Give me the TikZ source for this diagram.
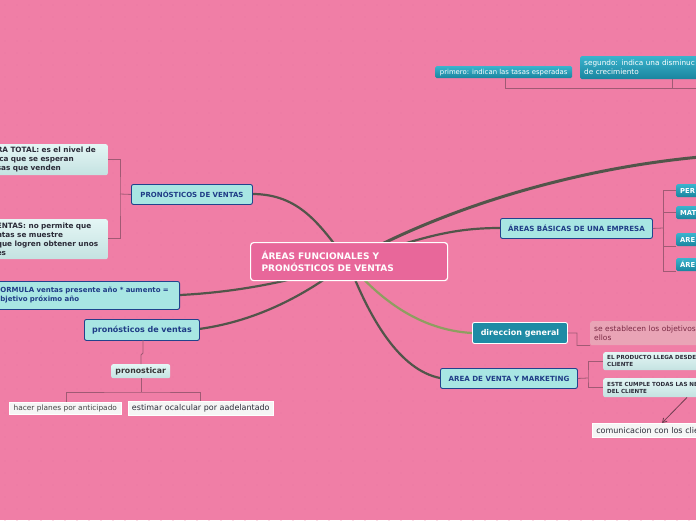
\documentclass[tikz,border=0pt]{standalone}
\usepackage{fontspec}
\setmainfont{DejaVu Sans}
\usetikzlibrary{arrows.meta}
\definecolor{bg}{HTML}{F07EA6}
\definecolor{dotc}{HTML}{E977A2}
\definecolor{centralc}{HTML}{E8679A}
\definecolor{cyanc}{HTML}{A8E6E3}
\definecolor{navy}{HTML}{22438C}
\definecolor{navytext}{HTML}{1F3C86}
\definecolor{branchc}{HTML}{52554A}
\definecolor{greenc}{HTML}{8E9E60}
\definecolor{elbowc}{HTML}{A05A74}
\definecolor{tealtop}{HTML}{3AB3CD}
\definecolor{tealbot}{HTML}{1A849E}
\definecolor{lighttop}{HTML}{E4F6F5}
\definecolor{lightbot}{HTML}{C4E2E1}
\definecolor{pinkbox}{HTML}{E9A4B6}
\definecolor{maroon}{HTML}{7A2A45}
\definecolor{darktext}{HTML}{2B2B38}
\definecolor{greytext}{HTML}{444444}
\tikzset{
  cyanbox/.style={fill=cyanc, draw=navy, line width=0.9pt, rounded corners=2pt, text=navytext, inner sep=0pt},
  centralbox/.style={fill=centralc, draw=white, line width=1.2pt, rounded corners=3pt, text=white, inner sep=0pt},
  tealbox/.style={top color=tealtop, bottom color=tealbot, draw=none, rounded corners=1.5pt, text=white, inner sep=0pt},
  lightbox/.style={top color=lighttop, bottom color=lightbot, draw=none, rounded corners=2pt, text=darktext, inner sep=0pt},
  whitebox/.style={fill=white!96!black, draw=white, line width=0.6pt, text=greytext, inner sep=0pt},
  dirbox/.style={fill=tealbot!85!tealtop, draw=white, line width=0.9pt, rounded corners=2pt, text=white, inner sep=0pt},
  pinkinfo/.style={fill=pinkbox, draw=none, rounded corners=2pt, text=maroon, inner sep=0pt},
  branch/.style={draw=branchc, line width=2.2pt, line cap=round},
  elbow/.style={draw=elbowc, line width=0.8pt},
}
\begin{document}
\begin{tikzpicture}[x=1pt,y=-1pt]
\useasboundingbox (0,0) rectangle (696,520);
\clip (0,0) rectangle (696,520);
\fill[bg] (0,0) rectangle (696,520);
\foreach \i in {0,...,58}{\foreach \j in {0,...,43}{\fill[dotc] (\i*12+5,\j*12+5) circle (0.6);}}

% coordinates for branch hub
\coordinate (hub) at (348,262);

% branches (drawn below nodes)
\draw[branch, line width=3pt] (hub) .. controls (430,215) and (560,170) .. (700,157);
\draw[branch] (hub) .. controls (420,238) and (450,228) .. (500,228);
\draw[branch] (hub) .. controls (320,225) and (300,194) .. (252,194);
\draw[branch] (hub) .. controls (300,280) and (240,292) .. (180,295);
\draw[branch] (hub) .. controls (300,300) and (250,322) .. (199,329);
\draw[branch] (hub) .. controls (370,320) and (400,370) .. (440,378);
\draw[branch, draw=greenc] (hub) .. controls (380,300) and (420,330) .. (472,333);

% central node
\node[centralbox, anchor=north west, minimum width=197pt, minimum height=38pt, text width=175pt, align=left, font=\bfseries\fontsize{9}{12.5}\selectfont] (center) at (250,242) {ÁREAS FUNCIONALES Y\\PRONÓSTICOS DE VENTAS};

% left upper group
\node[cyanbox, anchor=north west, minimum width=121pt, minimum height=20pt, font=\bfseries\fontsize{7}{8}\selectfont] (pv) at (131,184) {PRONÓSTICOS DE VENTAS};
\node[lightbox, anchor=north east, minimum height=31pt, text width=108pt, inner xsep=3pt, align=left, font=\bfseries\fontsize{7.3}{9}\selectfont] (dt) at (108,144) {RA TOTAL: es el nivel de\\ica que se esperan\\sas que venden};
\node[lightbox, anchor=north east, minimum height=40pt, text width=108pt, inner xsep=3pt, align=left, font=\bfseries\fontsize{7.3}{9}\selectfont] (pvv) at (108,219) {ENTAS: no permite que\\ntas se muestre\\que logren obtener unos\\es};
\coordinate (e1) at (120,194);
\draw[elbow] (pv.west) -- (e1);
\draw[elbow] (dt.east |- 0,159) -| (e1) |- (pvv.east |- 0,238);

% formula
\node[cyanbox, anchor=north east, minimum height=28pt, text width=180pt, inner xsep=4pt, align=left, font=\bfseries\fontsize{7}{9}\selectfont] (formula) at (180,281) {FORMULA ventas presente año * aumento =\\objetivo próximo año};

% pronosticos de ventas
\node[cyanbox, anchor=north west, minimum width=115pt, minimum height=21pt, font=\bfseries\fontsize{8}{9}\selectfont] (pdv) at (84,319) {pronósticos de ventas};
\node[lightbox, anchor=north west, minimum width=59pt, minimum height=14pt, font=\bfseries\fontsize{7.8}{9}\selectfont, text=greytext!80!black] (pron) at (111,364) {pronosticar};
\draw[elbow] (143,340) -- (143,353) -- (141,355) -- (pron.north -| 141,0);
\node[whitebox, anchor=north west, minimum width=112pt, minimum height=12pt, font=\fontsize{7.4}{8}\selectfont] (hacer) at (9,402) {hacer planes por anticipado};
\node[whitebox, anchor=north west, minimum width=145pt, minimum height=14pt, font=\fontsize{8}{9}\selectfont, text=darktext] (estimar) at (128,401) {estimar ocalcular por aadelantado};
\coordinate (e2) at (141,392);
\draw[elbow] (pron.south -| 141,0) -- (e2);
\draw[elbow] (hacer.north -| 66,0) |- (e2) -| (estimar.north -| 200,0);

% top right
\node[tealbox, anchor=north west, minimum width=137pt, minimum height=12pt, font=\fontsize{6.9}{8}\selectfont] (primero) at (435,66) {primero: indican las tasas esperadas};
\node[tealbox, anchor=north west, minimum height=23pt, text width=130pt, inner xsep=4pt, align=left, font=\fontsize{7.3}{9}\selectfont] (segundo) at (580,56) {segundo: indica una disminuc\\de crecimiento};
\coordinate (e3) at (700,88);
\draw[elbow] (primero.south -| 505,0) |- (e3);
\draw[elbow] (segundo.south -| 672,0) -- (672,88);

% areas basicas
\node[cyanbox, anchor=north west, minimum width=152pt, minimum height=20pt, font=\bfseries\fontsize{7.1}{8}\selectfont] (ab) at (500,218) {ÁREAS BÁSICAS DE UNA EMPRESA};
\node[tealbox, anchor=north west, minimum width=40pt, minimum height=13pt, text width=34pt, inner xsep=4pt, align=left, font=\bfseries\fontsize{6.8}{8}\selectfont] (per) at (676,184) {PER};
\node[tealbox, anchor=north west, minimum width=40pt, minimum height=13pt, text width=34pt, inner xsep=4pt, align=left, font=\bfseries\fontsize{6.8}{8}\selectfont] (mat) at (676,206) {MAT};
\node[tealbox, anchor=north west, minimum width=40pt, minimum height=13pt, text width=34pt, inner xsep=4pt, align=left, font=\bfseries\fontsize{6.8}{8}\selectfont] (are) at (676,233) {ARE};
\node[tealbox, anchor=north west, minimum width=40pt, minimum height=13pt, text width=34pt, inner xsep=4pt, align=left, font=\bfseries\fontsize{6.8}{8}\selectfont] (are2) at (676,258) {ÁRE};
\coordinate (e4) at (663,228);
\draw[elbow] (ab.east) -- (e4);
\draw[elbow] (per.west) -| (e4);
\draw[elbow] (mat.west) -| (e4);
\draw[elbow] (are.south west) -| (e4);
\draw[elbow] (are2.south west) -| (e4);

% direccion general
\node[dirbox, anchor=north west, minimum width=95pt, minimum height=21pt, font=\bfseries\fontsize{8}{9}\selectfont] (dir) at (472,322) {direccion general};
\node[pinkinfo, anchor=north west, minimum height=24pt, text width=110pt, inner xsep=4pt, align=left, font=\fontsize{7.5}{9.5}\selectfont] (obj) at (590,321) {se establecen los objetivos\\ellos};
\draw[elbow] (dir.east) -- (577,333) |- (obj.south west);

% area de venta y marketing
\node[cyanbox, anchor=north west, minimum width=137pt, minimum height=20pt, font=\bfseries\fontsize{7.1}{8}\selectfont] (avm) at (440,368) {AREA DE VENTA Y MARKETING};
\node[lightbox, anchor=north west, minimum height=18pt, text width=100pt, inner xsep=4pt, align=left, font=\bfseries\fontsize{5.6}{7}\selectfont] (prod) at (603,352) {EL PRODUCTO LLEGA DESDE\\CLIENTE};
\node[lightbox, anchor=north west, minimum height=19pt, text width=100pt, inner xsep=4pt, align=left, font=\bfseries\fontsize{5.6}{7}\selectfont] (cumple) at (603,378) {ESTE CUMPLE TODAS LAS NE\\DEL CLIENTE};
\coordinate (e5) at (588,378);
\draw[elbow] (avm.east) -- (e5);
\draw[elbow] (prod.west) -| (e5) |- (cumple.west);
\node[whitebox, anchor=north west, minimum height=14pt, text width=110pt, inner xsep=4pt, align=left, font=\fontsize{8}{9}\selectfont, text=darktext] (com) at (592,423) {comunicacion con los clie};
\draw[draw=elbowc!70!black, line width=0.8pt, -{Straight Barb[length=4pt,width=5pt]}] (cumple.south -| 687,0) -- (com.north -| 662,0);
\end{tikzpicture}
\end{document}
